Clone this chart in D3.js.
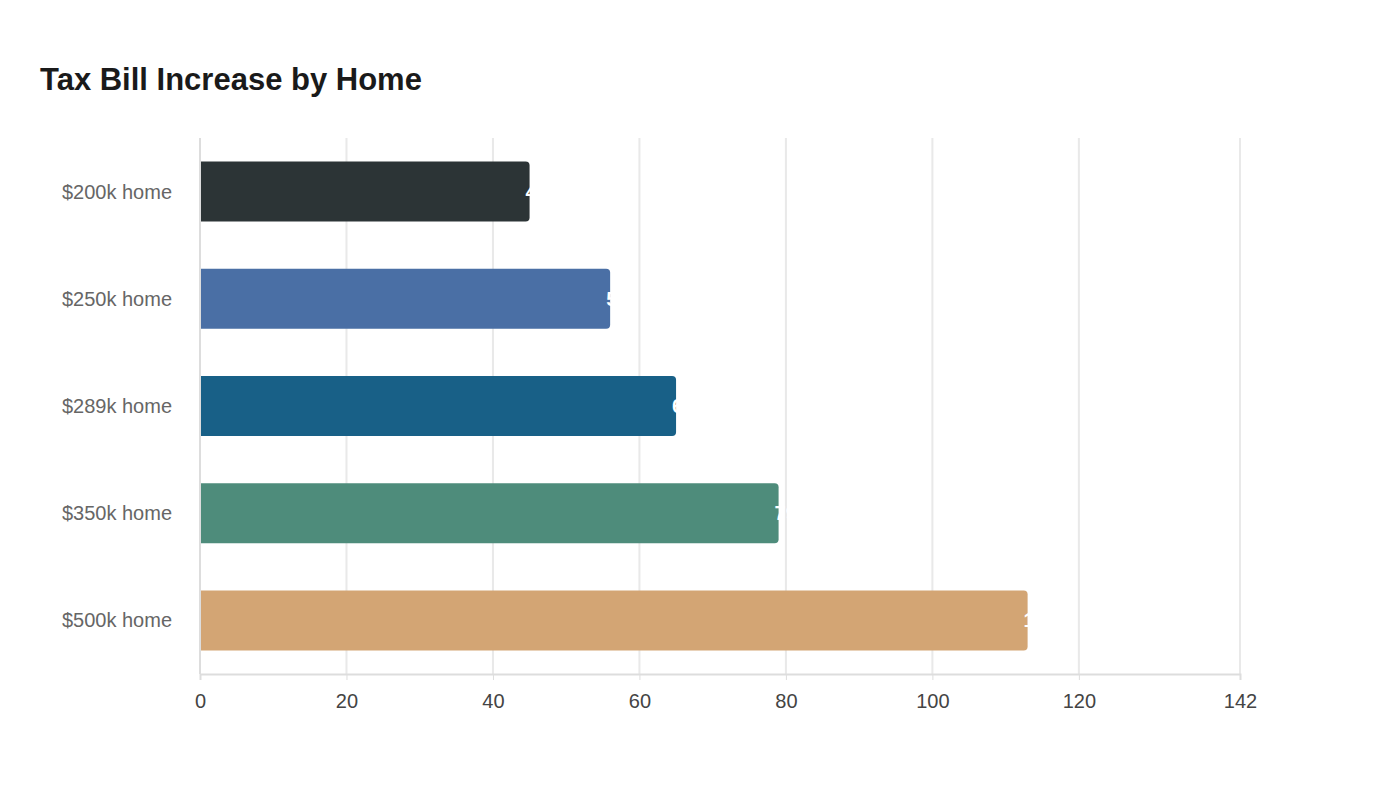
<!DOCTYPE html>
<html><head><meta charset="utf-8">
<script src="https://cdn.jsdelivr.net/npm/d3@7"></script>
<style>body{margin:0;background:#fff;font-family:"Liberation Sans",Arial,sans-serif;}</style>
</head><body>
<div id="chart"></div>
<script>
var categories = ["$200k home", "$250k home", "$289k home", "$350k home", "$500k home"];
var values = [45, 56, 65, 79, 113];
var colors = ["#2c3436", "#4a6fa5", "#186087", "#4e8c7b", "#d3a574"];
var ticks = [0, 20, 40, 60, 80, 100, 120, 142];

var svgWidth = 1400, svgHeight = 800;
var margin = {top: 138, right: 160, bottom: 126, left: 200};
var width = svgWidth - margin.left - margin.right;
var height = svgHeight - margin.top - margin.bottom;

var svg = d3.select("#chart").append("svg")
  .attr("width", svgWidth).attr("height", svgHeight);

svg.append("text").attr("x", 40).attr("y", 90)
  .attr("font-size", 31).attr("font-weight", "bold").attr("fill", "#1a1a1a")
  .text("Tax Bill Increase by Home");

var g = svg.append("g").attr("transform", `translate(${margin.left},${margin.top})`);

var x = d3.scaleLinear().domain([0, 142]).range([0, width]);
var y = d3.scaleBand().domain(categories).range([0, height]).paddingInner(0.44).paddingOuter(0.22);

// grid
g.selectAll(".grid").data(ticks.slice(1)).enter().append("line")
  .attr("x1", d => x(d)).attr("x2", d => x(d))
  .attr("y1", 0).attr("y2", height)
  .attr("stroke", "#e9e9e9").attr("stroke-width", 2);

var xAxis = g.append("g").attr("transform", `translate(0,${height})`)
  .call(d3.axisBottom(x).tickValues(ticks).tickSize(6).tickPadding(14));
xAxis.select(".domain").attr("stroke", "#ddd").attr("stroke-width", 2);
xAxis.selectAll(".tick line").attr("stroke", "#ddd");
xAxis.selectAll("text").attr("font-size", 20).attr("fill", "#444").attr("font-family", "Liberation Sans, Arial, sans-serif");

g.append("line").attr("x1", 0).attr("x2", 0).attr("y1", 0).attr("y2", height)
  .attr("stroke", "#ddd").attr("stroke-width", 2);

var r = 4;
g.selectAll(".bar").data(values).enter().append("path")
  .attr("fill", (d, i) => colors[i])
  .attr("d", (d, i) => {
    var x0 = x(0) + 1, x1 = x(d), y0 = y(categories[i]), h = y.bandwidth();
    return `M${x0},${y0}H${x1 - r}Q${x1},${y0} ${x1},${y0 + r}V${y0 + h - r}Q${x1},${y0 + h} ${x1 - r},${y0 + h}H${x0}Z`;
  });

g.selectAll(".val").data(values).enter().append("text")
  .attr("x", d => x(d) - 4)
  .attr("y", (d, i) => y(categories[i]) + y.bandwidth() / 2 + 7)
  .attr("fill", "#fff").attr("font-weight", "bold").attr("font-size", 20)
  .text(d => d);

g.selectAll(".cat").data(categories).enter().append("text")
  .attr("x", -28).attr("y", d => y(d) + y.bandwidth() / 2 + 7)
  .attr("text-anchor", "end").attr("font-size", 20).attr("fill", "#666")
  .text(d => d);
</script>
</body></html>
